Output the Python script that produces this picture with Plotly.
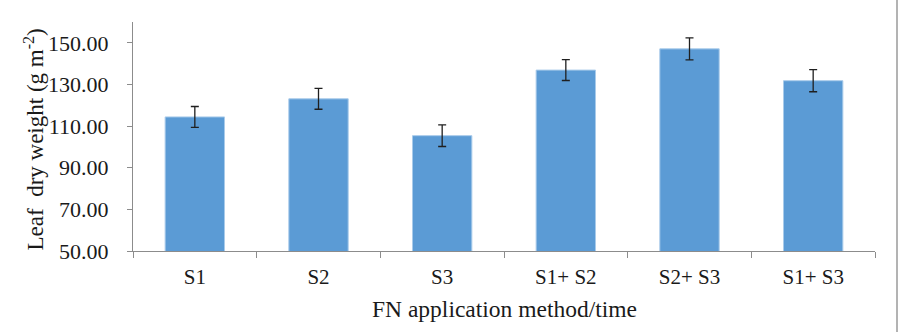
import plotly.graph_objects as go

categories = ["S1", "S2", "S3", "S1+ S2", "S2+ S3", "S1+ S3"]
leaf_dry_weight = [114.4, 123.1, 105.4, 136.9, 147.1, 131.8]
std_error = [5.0, 5.0, 5.2, 5.0, 5.3, 5.3]
y_ticks = [50, 70, 90, 110, 130, 150]

W, H = 903, 332
ML, MR, MT, MB = 133, 28, 22, 81
FONT = "Liberation Serif"
AXIS_COLOR = "#8c8c8c"
TEXT = "#1a1a1a"

fig = go.Figure(
    go.Bar(
        x=categories,
        y=leaf_dry_weight,
        width=0.48,
        marker=dict(color="#5b9bd5", line=dict(color="#a9cbea", width=1)),
        error_y=dict(type="data", array=std_error, visible=True,
                     color="#1f1f1f", thickness=1.3, width=4),
    )
)

plot_w = W - ML - MR
fig.update_layout(
    width=W, height=H,
    margin=dict(l=ML, r=MR, t=MT, b=MB, pad=0),
    paper_bgcolor="white", plot_bgcolor="white",
    showlegend=False,
    font=dict(family=FONT, size=20, color=TEXT),
    xaxis=dict(
        type="category", showline=True, linecolor=AXIS_COLOR, linewidth=1.3,
        ticks="outside", tickson="boundaries", ticklen=6, tickcolor=AXIS_COLOR,
        tickfont=dict(family=FONT, size=21, color=TEXT),
        ticklabelstandoff=7,
        showgrid=False, range=[-0.5, len(categories) - 0.5],
    ),
    yaxis=dict(
        range=[50, 160], tickvals=y_ticks, tickformat=".2f",
        showline=True, linecolor=AXIS_COLOR, linewidth=1.3,
        ticks="outside", ticklen=5, tickcolor=AXIS_COLOR,
        tickfont=dict(family=FONT, size=22, color=TEXT),
        ticklabelstandoff=14,
        showgrid=False, zeroline=False,
    ),
    annotations=[
        dict(text="FN application method/time", xref="paper", yref="paper",
             x=(504 - ML) / plot_w, xanchor="center", showarrow=False,
             y=0, yshift=-58, yanchor="middle",
             font=dict(family=FONT, size=23.5, color=TEXT)),
        dict(text="Leaf\u00a0\u00a0dry weight (g m<sup>-2</sup>)", xref="paper", yref="paper",
             x=(34 - ML) / plot_w, y=0.5, yshift=-3, xanchor="center", yanchor="middle",
             textangle=-90, showarrow=False,
             font=dict(family=FONT, size=23, color=TEXT)),
    ],
    shapes=[
        dict(type="line", xref="paper", yref="paper",
             x0=(897 - ML) / plot_w, x1=(897 - ML) / plot_w,
             y0=-MB / (H - MT - MB), y1=1 + MT / (H - MT - MB),
             line=dict(color="#9a9a9a", width=1.5)),
    ],
)

fig.write_html("out.html")
